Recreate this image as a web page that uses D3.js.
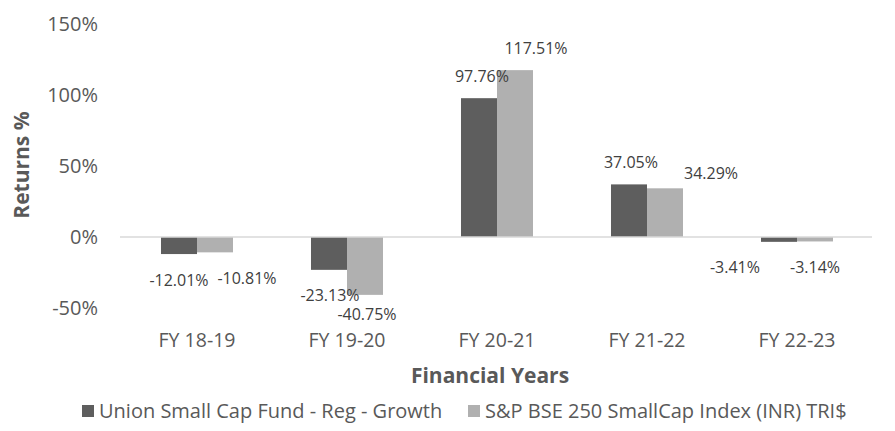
<!DOCTYPE html>
<html><head><meta charset="utf-8">
<script src="https://cdn.jsdelivr.net/npm/d3@7"></script>
<style>body{margin:0;background:#fff;} text{font-family:"Open Sans",sans-serif;}</style>
</head><body>
<svg id="chart" width="895" height="431"></svg>
<script>
const categories = ["FY 18-19","FY 19-20","FY 20-21","FY 21-22","FY 22-23"];
const seriesNames = ["Union Small Cap Fund - Reg - Growth","S&P BSE 250 SmallCap Index (INR) TRI$"];
const fundValues = [-12.01,-23.13,97.76,37.05,-3.41];
const indexValues = [-10.81,-40.75,117.51,34.29,-3.14];
const yTicks = [-50,0,50,100,150];
// manual label nudges (layout only)
const labelDx = [[0,32],[1,2],[3,21],[2,46],[-44,0]];
const labelDy = [[0,0],[0,-6],[0,0],[0,7],[0,0]];

const colors = ["#5e5e5e","#b0b0b0"];
const svg = d3.select("#chart");
const m = {left:122,right:872,top:24,bottom:308};
const x = d3.scaleBand().domain(categories).range([m.left,m.right]).paddingInner(0).paddingOuter(0);
const y = d3.scaleLinear().domain([-50,150]).range([m.bottom,m.top]);
const inner = d3.scaleBand().domain([0,1]).range([0,x.bandwidth()]).paddingInner(0).paddingOuter(1.083);
const series = [fundValues, indexValues];

// y-axis tick labels
const yAxis = d3.axisLeft(y).tickValues(yTicks).tickFormat(d=>d+"%").tickSize(0).tickPadding(0);
const gy = svg.append("g").attr("transform",`translate(98,0)`).call(yAxis);
gy.select(".domain").remove();
gy.selectAll("text").attr("font-size",20).attr("fill","#595959").attr("font-family","Open Sans");

// bars
series.forEach((vals,si)=>{
  svg.append("g").selectAll("rect").data(vals).join("rect")
    .attr("x",(d,i)=>x(categories[i])+inner(si))
    .attr("width",inner.bandwidth())
    .attr("y",d=>y(Math.max(0,d)))
    .attr("height",d=>Math.abs(y(d)-y(0)))
    .attr("fill",colors[si]);
});

// zero line
svg.append("line").attr("x1",m.left-2).attr("x2",m.right).attr("y1",y(0)).attr("y2",y(0))
  .attr("stroke","#d9d9d9").attr("stroke-width",1.5);

// data labels
series.forEach((vals,si)=>{
  svg.append("g").selectAll("text").data(vals).join("text")
    .attr("x",(d,i)=>x(categories[i])+inner(si)+inner.bandwidth()/2+labelDx[i][si])
    .attr("y",(d,i)=>(d>=0? y(d)-22 : y(d)+26)+labelDy[i][si])
    .attr("dy","0.35em")
    .attr("text-anchor","middle").attr("font-size",16).attr("fill","#404040")
    .text(d=>d.toFixed(2)+"%");
});

// x-axis category labels
const xAxis = d3.axisBottom(x).tickSize(0).tickPadding(0);
const gx = svg.append("g").attr("transform",`translate(0,333)`).call(xAxis);
gx.select(".domain").remove();
gx.selectAll("text").attr("font-size",19.5).attr("fill","#595959").attr("font-family","Open Sans");

// axis titles
svg.append("text").attr("x",490).attr("y",376).attr("dy","0.35em").attr("text-anchor","middle")
  .attr("font-size",21).attr("font-weight","bold").attr("fill","#595959").text("Financial Years");
svg.append("text").attr("transform","translate(22,165) rotate(-90)").attr("dy","0.35em").attr("text-anchor","middle")
  .attr("font-size",21).attr("font-weight","bold").attr("fill","#595959").text("Returns %");

// legend
const legX = [82,468];
seriesNames.forEach((n,i)=>{
  svg.append("rect").attr("x",legX[i]).attr("y",405).attr("width",12).attr("height",12).attr("fill",colors[i]);
  svg.append("text").attr("x",legX[i]+17).attr("y",411).attr("dy","0.35em").attr("font-size",20).attr("fill","#595959").text(n);
});
</script>
</body></html>
